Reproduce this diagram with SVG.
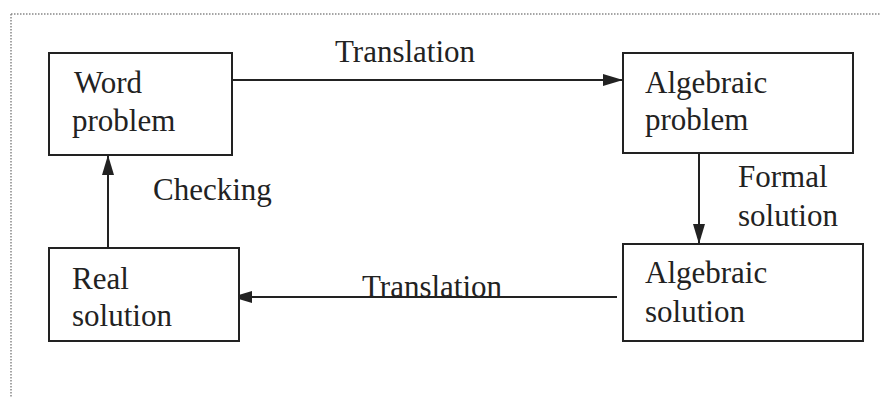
<svg xmlns="http://www.w3.org/2000/svg" width="880" height="397" viewBox="0 0 880 397">
<style>
.box{fill:#fff;stroke:#222;stroke-width:2}
.t{font-family:"Liberation Serif",serif;font-size:31px;fill:#222}
.c{stroke:#222;stroke-width:2;fill:none}
</style>
<defs>
<marker id="ah2" markerWidth="20" markerHeight="12" refX="19" refY="6" orient="auto" markerUnits="userSpaceOnUse" viewBox="0 0 20 12">
<path d="M0,0 L20,6 L0,12 Z" fill="#222"/>
</marker>
</defs>
<rect width="880" height="397" fill="#fff"/>
<path d="M11,14 H880 M11,14 V397" stroke="#888" stroke-width="1.5" stroke-dasharray="1.5,1.5" fill="none"/>
<g id="connectors">
<line class="c" x1="232" y1="80" x2="622" y2="80" marker-end="url(#ah2)"/>
<line class="c" x1="699" y1="154" x2="699" y2="243" marker-end="url(#ah2)"/>
<line class="c" x1="617" y1="297" x2="233" y2="297" marker-end="url(#ah2)"/>
<line class="c" x1="108" y1="248" x2="108" y2="156" marker-end="url(#ah2)"/>
<text class="t" x="335" y="62">Translation</text>
<text class="t" x="738" y="187">Formal</text>
<text class="t" x="738" y="226">solution</text>
<text class="t" x="362" y="297">Translation</text>
<text class="t" x="153" y="200">Checking</text>
</g>
<g id="word-problem">
<rect class="box" x="49" y="53" width="183" height="102"/>
<text class="t" x="74" y="93">Word</text>
<text class="t" x="72" y="131">problem</text>
</g>
<g id="algebraic-problem">
<rect class="box" x="623" y="53" width="230" height="100"/>
<text class="t" x="645" y="93">Algebraic</text>
<text class="t" x="645" y="130">problem</text>
</g>
<g id="algebraic-solution">
<rect class="box" x="623" y="244" width="240" height="97"/>
<text class="t" x="645" y="283">Algebraic</text>
<text class="t" x="645" y="322">solution</text>
</g>
<g id="real-solution">
<rect class="box" x="49" y="248" width="190" height="93"/>
<text class="t" x="72" y="289">Real</text>
<text class="t" x="72" y="326">solution</text>
</g>
</svg>
